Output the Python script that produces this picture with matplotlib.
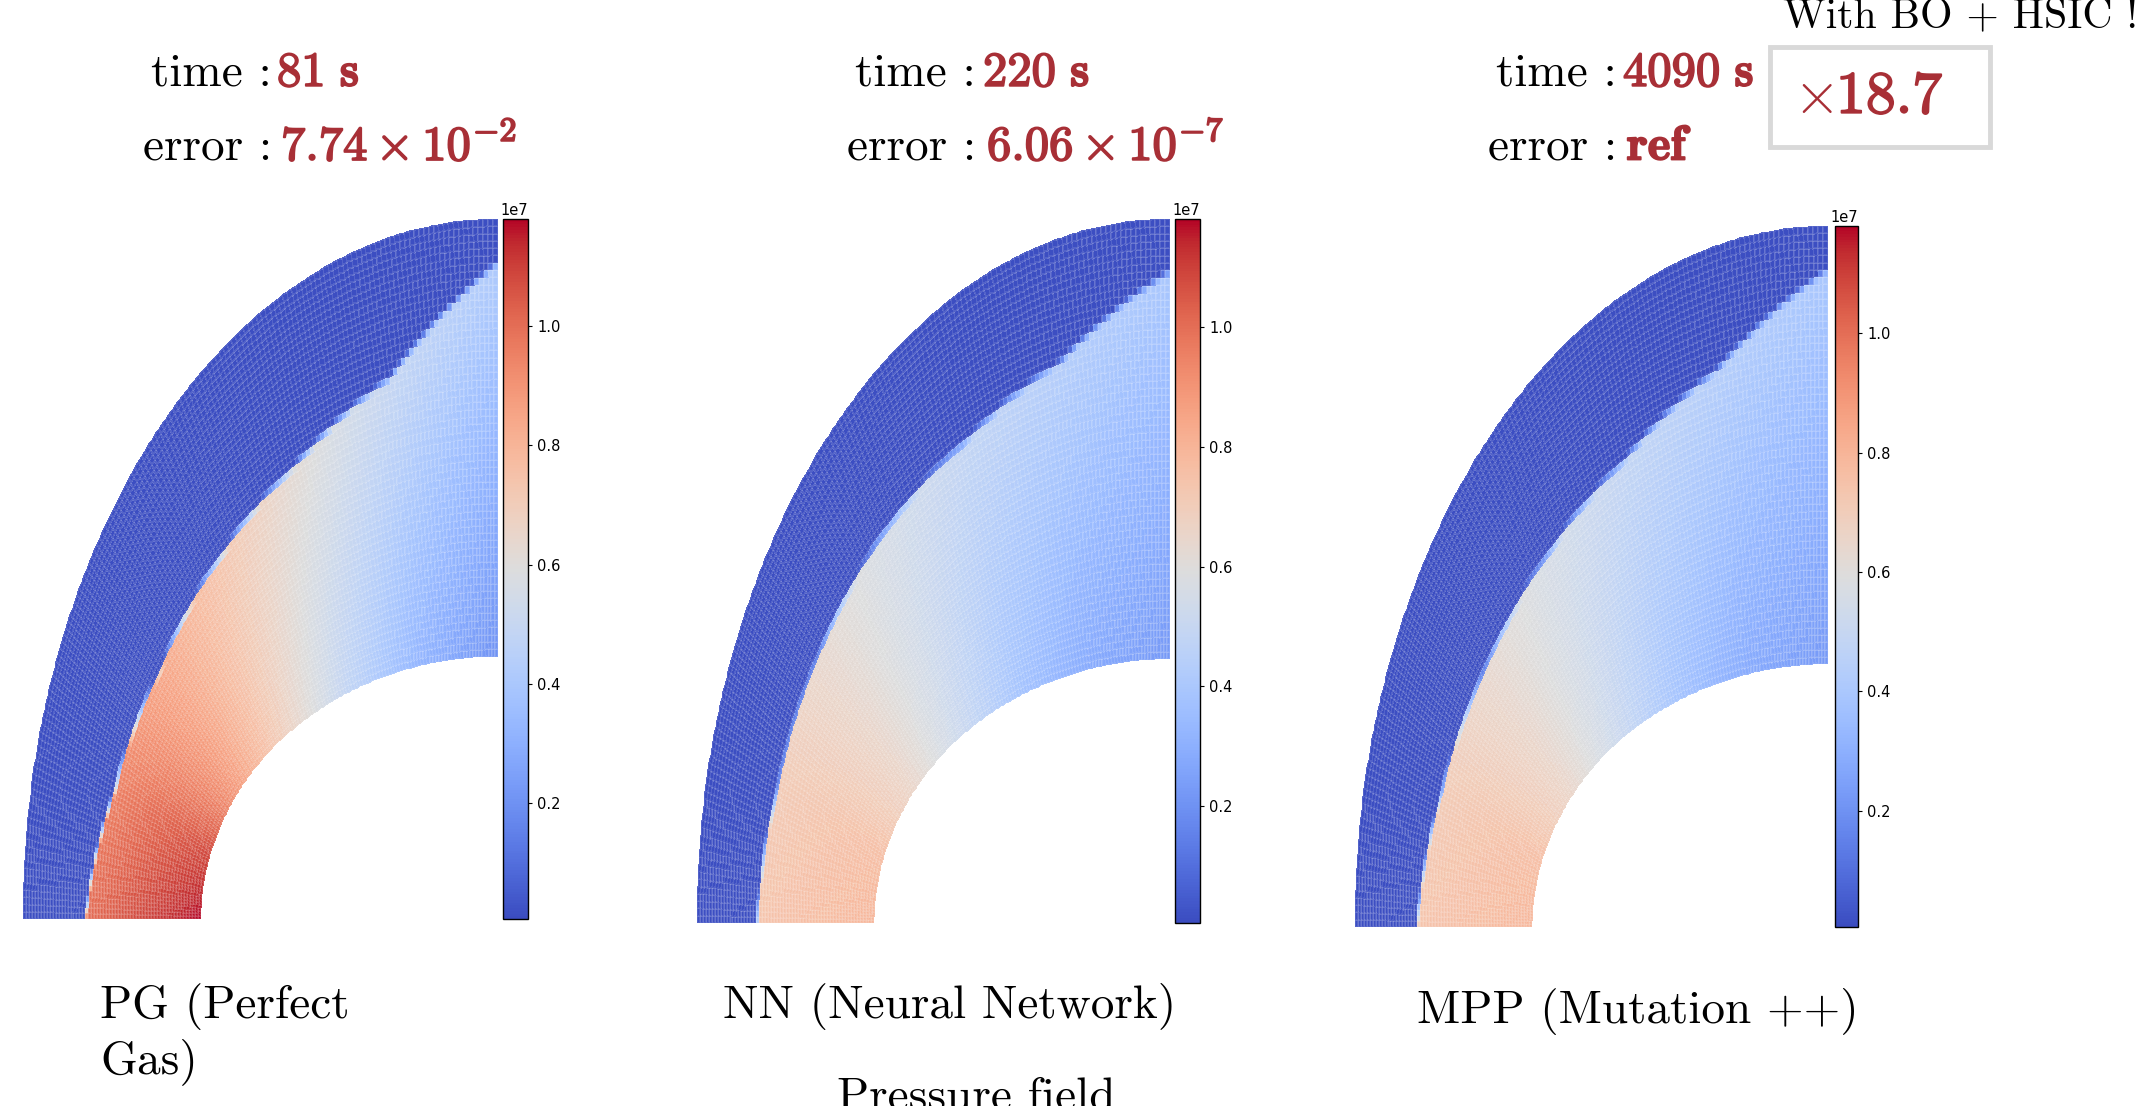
import numpy as np
import matplotlib
matplotlib.use('Agg')
import matplotlib.pyplot as plt
import matplotlib.patheffects as pe
from matplotlib.patches import Rectangle

plt.rcParams['mathtext.fontset'] = 'cm'

# angle along the body, from the stagnation line (deg)
theta_deg = [0, 15, 30, 45, 60, 75, 90]

# shock position as fraction of the distance body -> outer boundary
shock_pg = [0.65, 0.56, 0.53, 0.56, 0.60, 0.68, 0.90]
shock_nn = [0.66, 0.62, 0.62, 0.64, 0.66, 0.72, 0.88]
shock_mpp = [0.65, 0.59, 0.57, 0.59, 0.63, 0.72, 0.90]

# pressure on the wall / just behind the shock (x 1e7)
p_wall_pg = [1.18, 1.08, 0.88, 0.68, 0.48, 0.32, 0.20]
p_shock_pg = [1.00, 0.95, 0.85, 0.74, 0.62, 0.50, 0.42]
p_wall_nn = [0.80, 0.76, 0.66, 0.52, 0.38, 0.28, 0.22]
p_shock_nn = [0.74, 0.71, 0.64, 0.56, 0.49, 0.44, 0.40]
p_wall_mpp = [0.80, 0.76, 0.66, 0.52, 0.38, 0.28, 0.22]
p_shock_mpp = [0.74, 0.71, 0.64, 0.56, 0.49, 0.44, 0.40]
p_inf = 0.012
p_min, p_max = 0.005, 1.18

titles = ['PG (Perfect\nGas)', 'NN (Neural Network)', 'MPP (Mutation ++)']
times = [r'$\mathbf{81\ s}$', r'$\mathbf{220\ s}$', r'$\mathbf{4090\ s}$']
errors = [r'$\mathbf{7.74\times10^{-2}}$', r'$\mathbf{6.06\times10^{-7}}$', r'$\mathbf{ref}$']
speedup = r'$\mathbf{18.7}$'

RED = '#a82f36'
W, H = 2150, 1106

# body (inner) and outer boundary semi-axes, normalised
a_in, b_in = 0.625, 0.375
n_t, n_r = 150, 60


def field(shock, p_wall, p_shock):
    t_e = np.radians(np.linspace(0, 90, n_t + 1))
    r_e = np.linspace(0, 1, n_r + 1)
    T, R = np.meshgrid(t_e, r_e)
    xi, yi = -a_in * np.cos(T), b_in * np.sin(T)
    xo, yo = -np.cos(T), np.sin(T)
    X = xi + R * (xo - xi)
    Y = yi + R * (yo - yi)

    tc = np.degrees(0.5 * (t_e[1:] + t_e[:-1]))
    rc = 0.5 * (r_e[1:] + r_e[:-1])
    Tc, Rc = np.meshgrid(tc, rc)
    f = np.interp(Tc, theta_deg, shock)
    pw = np.interp(Tc, theta_deg, p_wall)
    ps = np.interp(Tc, theta_deg, p_shock)
    layer = pw + (ps - pw) * np.clip(Rc / f, 0, 1)
    w = np.clip((f - Rc) * n_r + 0.5, 0, 1)
    P = p_inf + (layer - p_inf) * w
    return X, Y, P * 1e7


def fx(x, y):
    return x / W, 1 - y / H


bold = [pe.withStroke(linewidth=1.3, foreground=RED)]

fig = plt.figure(figsize=(21.5, 11.06), dpi=100)

panels = [(shock_pg, p_wall_pg, p_shock_pg),
          (shock_nn, p_wall_nn, p_shock_nn),
          (shock_mpp, p_wall_mpp, p_shock_mpp)]
# pixel boxes (left, top, right, bottom) of the meshes and colorbars
mesh_px = [(23, 219, 498, 919), (697, 219, 1170, 923), (1355, 226, 1828, 927)]
cbar_px = [(503, 219, 528, 919), (1175, 219, 1200, 923), (1835, 226, 1858, 927)]

for (sh, pw, ps), mb, cb in zip(panels, mesh_px, cbar_px):
    ax = fig.add_axes([mb[0] / W, 1 - mb[3] / H, (mb[2] - mb[0]) / W, (mb[3] - mb[1]) / H])
    X, Y, P = field(sh, pw, ps)
    m = ax.pcolormesh(X, Y, P, cmap='coolwarm', vmin=p_min * 1e7, vmax=p_max * 1e7,
                      edgecolors=(1, 1, 1, 0.12), linewidth=0.3)
    ax.set_xlim(-1, 0)
    ax.set_ylim(0, 1)
    ax.axis('off')
    cax = fig.add_axes([cb[0] / W, 1 - cb[3] / H, (cb[2] - cb[0]) / W, (cb[3] - cb[1]) / H])
    c = fig.colorbar(m, cax=cax)
    c.ax.tick_params(labelsize=10.5, length=3, width=0.8)
    c.ax.yaxis.get_offset_text().set_fontsize(10.5)
    c.outline.set_linewidth(1)

# time / error annotations
colon_x = [272, 976, 1617]
value_x = [277, 983, 1623]
for cx, vx, t, e in zip(colon_x, value_x, times, errors):
    fig.text(*fx(cx, 86), 'time :', fontfamily='cmr10', fontsize=34, ha='right', va='baseline')
    fig.text(*fx(vx, 86), t, fontsize=35, color=RED, ha='left', va='baseline', path_effects=bold)
    fig.text(*fx(cx, 160), 'error :', fontfamily='cmr10', fontsize=34, ha='right', va='baseline')
    fig.text(*fx(vx + 4, 160), e, fontsize=35, color=RED, ha='left', va='baseline',
             path_effects=bold)

# speed-up box
fig.patches.append(Rectangle(fx(1770, 147), 220 / W, 100 / H, transform=fig.transFigure,
                             facecolor='white', edgecolor='#d9d9d9', linewidth=3.5))
fig.text(*fx(1793, 113), r'$\times$', fontsize=43, color=RED, ha='left', va='baseline')
fig.text(*fx(1836, 113), speedup, fontsize=43, color=RED, ha='left', va='baseline',
         path_effects=bold)
fig.text(*fx(1783, 27), 'With BO + HSIC !', fontfamily='cmr10', fontsize=30,
         ha='left', va='baseline')

# model names
fig.text(*fx(100, 1018), 'PG (Perfect', fontfamily='cmr10', fontsize=34, va='baseline')
fig.text(*fx(100, 1073), 'Gas)', fontfamily='cmr10', fontsize=34, va='baseline')
fig.text(*fx(723, 1018), titles[1], fontfamily='cmr10', fontsize=34, va='baseline')
fig.text(*fx(1417, 1023), titles[2], fontfamily='cmr10', fontsize=34, va='baseline')
fig.text(*fx(837, 1110), 'Pressure field', fontfamily='cmr10', fontsize=34, va='baseline')

fig.savefig('out.png', dpi=100)
